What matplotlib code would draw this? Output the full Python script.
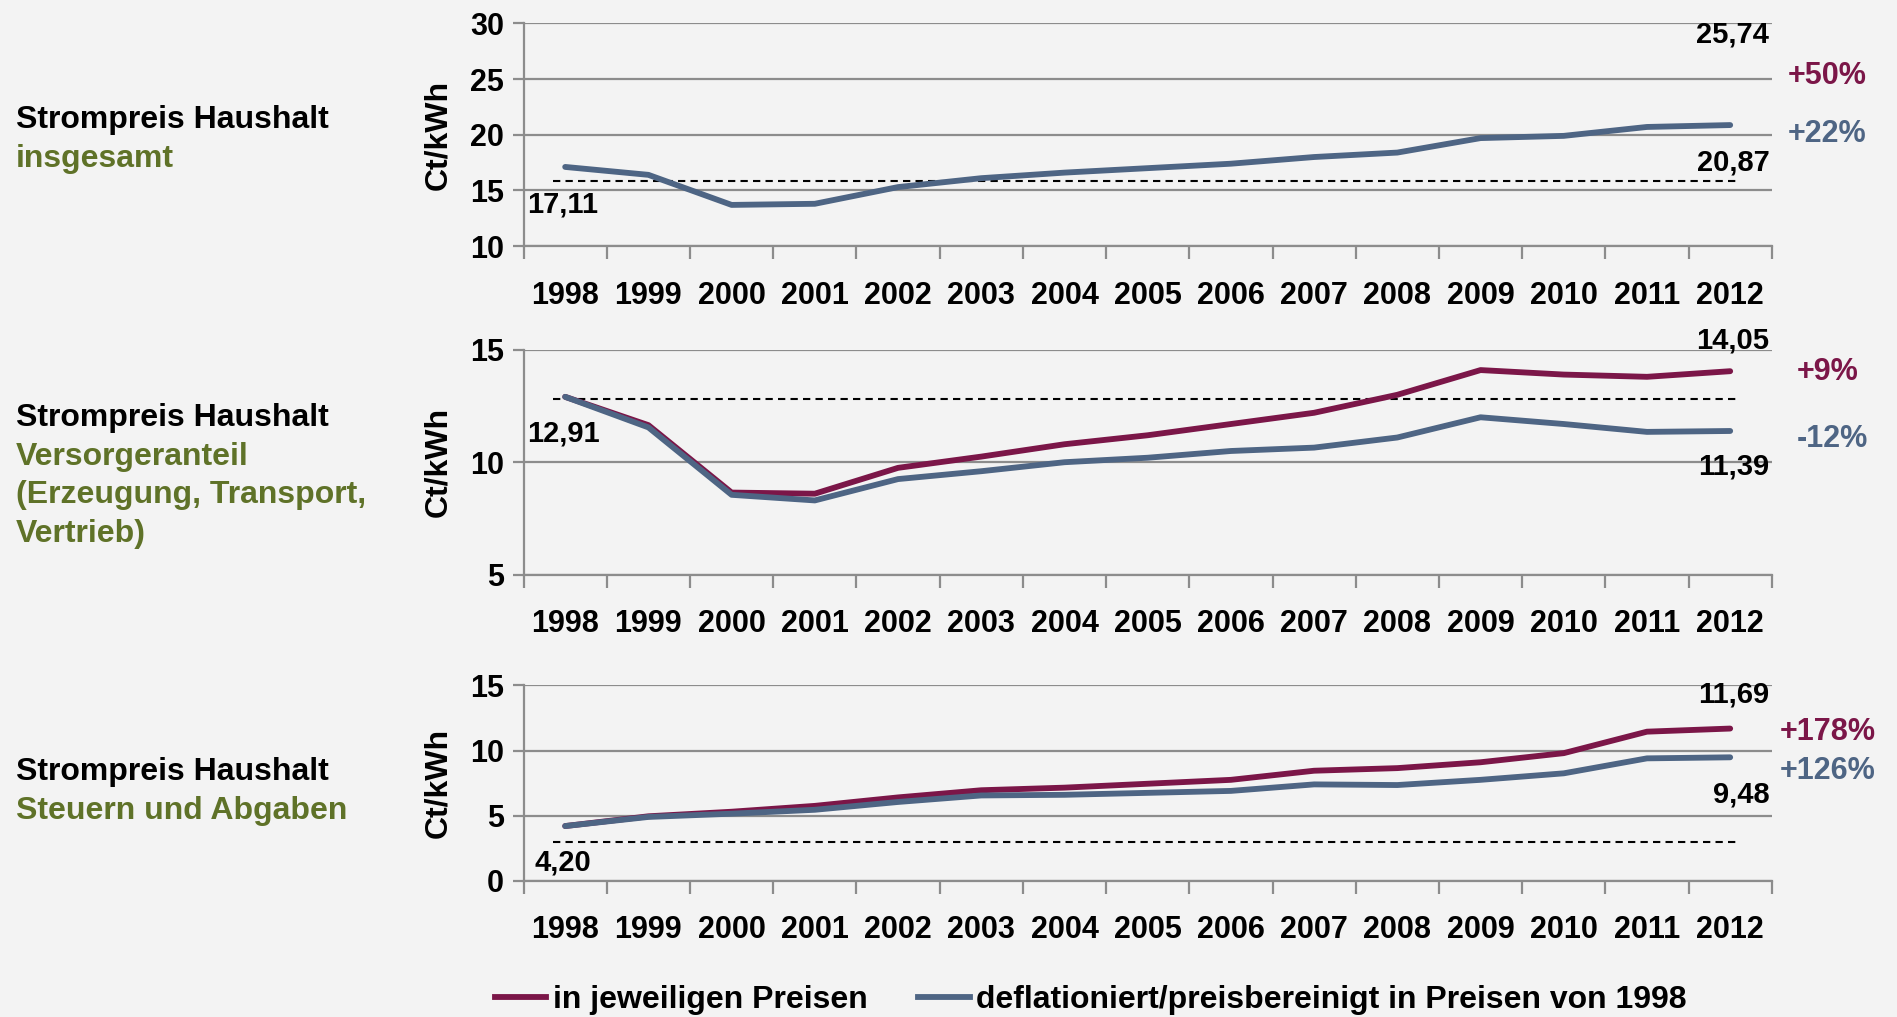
import numpy as np
import matplotlib.pyplot as plt
from matplotlib.lines import Line2D

years = [str(y) for y in range(1998, 2013)]

# Strompreis Haushalt insgesamt (nur deflationiert gezeichnet)
total_real = [17.11, 16.4, 13.7, 13.8, 15.3, 16.1, 16.6, 17.0, 17.4, 18.0, 18.4, 19.7, 19.9, 20.7, 20.87]
total_ref = 15.85

# Versorgeranteil
supply_nom = [12.91, 11.65, 8.65, 8.6, 9.75, 10.25, 10.8, 11.2, 11.7, 12.2, 13.0, 14.1, 13.9, 13.8, 14.05]
supply_real = [12.91, 11.55, 8.55, 8.3, 9.25, 9.6, 10.0, 10.2, 10.5, 10.65, 11.1, 12.0, 11.7, 11.35, 11.39]
supply_ref = 12.8

# Steuern und Abgaben
tax_nom = [4.20, 4.95, 5.3, 5.75, 6.4, 6.95, 7.15, 7.45, 7.75, 8.45, 8.65, 9.1, 9.8, 11.45, 11.69]
tax_real = [4.20, 4.9, 5.15, 5.45, 6.05, 6.55, 6.6, 6.75, 6.9, 7.4, 7.35, 7.75, 8.25, 9.4, 9.48]
tax_ref = 3.0

red = '#7b1648'
blue = '#4e6584'
green = '#5f7228'
grid = '#8c8c8c'
bg = '#f3f3f3'

font = ['Liberation Sans', 'DejaVu Sans']

fig = plt.figure(figsize=(18.97, 10.17), dpi=100, facecolor=bg)

panels = [
    dict(rect=[0.276, 0.758, 0.658, 0.219], ylim=(10, 30), yt=[10, 15, 20, 25, 30],
         nom=None, real=total_real, ref=total_ref,
         top='25,74', top_y=29.0, bot='20,87', bot_y=17.5, start='17,11', start_x=-0.46, start_y=13.7,
         p1='+50%', p1_y=25.3, p2='+22%', p2_y=20.1, px=14.69,
         title=['insgesamt'], ty=0.882),
    dict(rect=[0.276, 0.435, 0.658, 0.221], ylim=(5, 15), yt=[5, 10, 15],
         nom=supply_nom, real=supply_real, ref=supply_ref,
         top='14,05', top_y=15.4, bot='11,39', bot_y=9.8, start='12,91', start_x=-0.46, start_y=11.3,
         p1='+9%', p1_y=14.0, p2='-12%', p2_y=11.05, px=14.8,
         title=['Versorgeranteil', '(Erzeugung, Transport,', 'Vertrieb)'], ty=0.589),
    dict(rect=[0.276, 0.134, 0.658, 0.192], ylim=(0, 15), yt=[0, 5, 10, 15],
         nom=tax_nom, real=tax_real, ref=tax_ref,
         top='11,69', top_y=14.3, bot='9,48', bot_y=6.6, start='4,20', start_x=-0.37, start_y=1.4,
         p1='+178%', p1_y=11.4, p2='+126%', p2_y=8.4, px=14.6,
         title=['Steuern und Abgaben'], ty=0.241),
]

x = np.arange(len(years))

for p in panels:
    ax = fig.add_axes(p['rect'])
    ax.set_facecolor(bg)
    ax.set_xlim(-0.5, 14.5)
    ax.set_ylim(*p['ylim'])
    ax.set_yticks(p['yt'])
    for v in p['yt']:
        ax.axhline(v, color=grid, lw=1.6, zorder=1)
    ax.plot([-0.15, 14.1], [p['ref'], p['ref']], color='black', lw=1.5, ls=(0, (3.5, 2.5)), zorder=2)
    if p['nom'] is not None:
        ax.plot(x, p['nom'], color=red, lw=4.2, solid_capstyle='round', zorder=3)
    ax.plot(x, p['real'], color=blue, lw=4.2, solid_capstyle='round', zorder=4)

    for s in ['top', 'right']:
        ax.spines[s].set_visible(False)
    for s in ['left', 'bottom']:
        ax.spines[s].set_color(grid)
        ax.spines[s].set_linewidth(1.6)

    ax.set_xticks(np.arange(-0.5, 15, 1), minor=True)
    ax.set_xticks(x)
    ax.set_xticklabels(years, family=font, fontweight='bold', fontsize=22)
    ax.tick_params(axis='x', which='major', length=0, pad=25)
    ax.tick_params(axis='x', which='minor', length=9, width=1.6, color=grid)
    ax.tick_params(axis='y', length=8, width=1.6, color=grid, pad=6)
    for lab in ax.get_yticklabels():
        lab.set_family(font)
        lab.set_fontweight('bold')
        lab.set_fontsize(22)
    ax.set_ylabel('Ct/kWh', family=font, fontweight='bold', fontsize=23, labelpad=12)

    ax.text(14.47, p['top_y'], p['top'], ha='right', va='center', family=font,
            fontweight='bold', fontsize=21, clip_on=False)
    ax.text(14.47, p['bot_y'], p['bot'], ha='right', va='center', family=font,
            fontweight='bold', fontsize=21, clip_on=False)
    ax.text(p['start_x'], p['start_y'], p['start'], ha='left', va='center', family=font,
            fontweight='bold', fontsize=21, clip_on=False)
    ax.text(p['px'], p['p1_y'], p['p1'], ha='left', va='center', family=font,
            fontweight='bold', fontsize=22, color=red, clip_on=False)
    ax.text(p['px'], p['p2_y'], p['p2'], ha='left', va='center', family=font,
            fontweight='bold', fontsize=22, color=blue, clip_on=False)

    fig.text(0.0085, p['ty'], 'Strompreis Haushalt', family=font, fontweight='bold',
             fontsize=23, va='center')
    for i, line in enumerate(p['title']):
        fig.text(0.0085, p['ty'] - 0.038 * (i + 1), line, family=font, fontweight='bold',
                 fontsize=23, color=green, va='center')

handles = [Line2D([], [], color=red, lw=4.2), Line2D([], [], color=blue, lw=4.2)]
fig.legend(handles, ['in jeweiligen Preisen', 'deflationiert/preisbereinigt in Preisen von 1998'],
           loc='center', bbox_to_anchor=(0.575, 0.017), ncol=2, frameon=False,
           prop={'family': font, 'weight': 'bold', 'size': 23},
           handlelength=1.6, handletextpad=0.2, columnspacing=1.6, borderpad=0)

fig.savefig('out.png', dpi=100, facecolor=bg)
